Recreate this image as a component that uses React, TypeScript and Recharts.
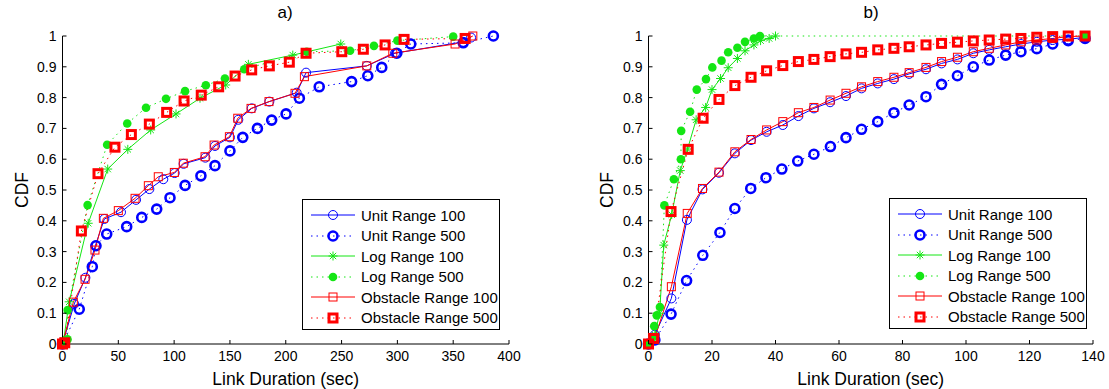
import React from 'react';
import { LineChart, Line, XAxis, YAxis, Label } from 'recharts';

const seriesNames = ['Unit Range 100', 'Unit Range 500', 'Log Range 100', 'Log Range 500', 'Obstacle Range 100', 'Obstacle Range 500'];

// panel a) : [link duration, cdf]
const aUnit100 = [[0, 0], [10.5, 0.13], [20.5, 0.215], [29.5, 0.32], [37.5, 0.406], [52.4, 0.428], [65.9, 0.468], [77.8, 0.503], [90.3, 0.535], [100.5, 0.555], [108.5, 0.585], [128, 0.605], [136.6, 0.643], [150, 0.671], [157.5, 0.728], [169.5, 0.765], [185.3, 0.787], [209.8, 0.816], [218.2, 0.881], [272.6, 0.903], [297.9, 0.944], [359, 0.981], [366, 0.995]];
const aUnit500 = [[0, 0], [15, 0.113], [26.7, 0.251], [30, 0.319], [39.6, 0.357], [57.5, 0.381], [71, 0.411], [84.4, 0.438], [96.3, 0.475], [109.8, 0.515], [124, 0.546], [136.6, 0.579], [150, 0.627], [161.5, 0.671], [174.6, 0.7], [187.4, 0.727], [200.3, 0.747], [212.2, 0.798], [230, 0.835], [259, 0.852], [273.5, 0.871], [286, 0.898], [299.5, 0.944], [312, 0.974], [359, 0.978], [386, 1.0]];
const aLog100 = [[0, 0], [1, 0.012], [6, 0.137], [23, 0.392], [40.5, 0.568], [58.5, 0.632], [79, 0.695], [101.7, 0.747], [123.2, 0.798], [146.2, 0.841], [166.5, 0.908], [206.3, 0.938], [249.3, 0.974]];
const aLog500 = [[0, 0], [4.5, 0.015], [4.6, 0.11], [22.5, 0.451], [40, 0.647], [58, 0.716], [74.8, 0.767], [92.7, 0.796], [109.8, 0.821], [128.4, 0.84], [145.5, 0.862], [162.8, 0.892], [218.8, 0.949], [257.6, 0.952], [279, 0.968], [300, 0.985], [350, 0.998]];
const aObstacle100 = [[0, 0], [9.7, 0.136], [20.2, 0.21], [29.1, 0.305], [36.6, 0.408], [50, 0.433], [65, 0.473], [76.9, 0.514], [85.8, 0.543], [100.2, 0.557], [108.2, 0.587], [127.7, 0.608], [135.8, 0.646], [149.5, 0.673], [157, 0.733], [168.9, 0.765], [185, 0.787], [208.3, 0.814], [216.7, 0.868], [272.6, 0.903], [295.9, 0.944], [351.7, 0.974], [367.6, 1.0]];
const aObstacle500 = [[0, 0], [2, 0.004], [16.9, 0.367], [31.8, 0.553], [47, 0.639], [61.7, 0.68], [77.8, 0.714], [93.3, 0.752], [108.9, 0.789], [124.3, 0.808], [139.9, 0.835], [154.6, 0.87], [169.5, 0.89], [185.3, 0.903], [203.2, 0.915], [218.2, 0.944], [250.2, 0.949], [269.5, 0.957], [289, 0.971], [306, 0.989], [360.7, 0.992]];

// panel b)
const bUnit100 = [[0, 0], [2, 0.03], [7.2, 0.148], [12.1, 0.403], [17, 0.502], [22.2, 0.556], [27.2, 0.619], [32.3, 0.662], [37.2, 0.689], [42.3, 0.711], [47.2, 0.74], [52.1, 0.765], [57.2, 0.785], [62.2, 0.805], [67.1, 0.83], [72.2, 0.846], [77.3, 0.86], [82.1, 0.877], [87.4, 0.892], [92.3, 0.911], [97.3, 0.924], [102.3, 0.944], [107.3, 0.955], [112.5, 0.965], [117.3, 0.974], [122.3, 0.981], [127.3, 0.987], [132.2, 0.989], [137.5, 0.996]];
const bUnit500 = [[0, 0], [2, 0.013], [7.1, 0.097], [12, 0.206], [17.1, 0.288], [22.5, 0.362], [27.2, 0.44], [32.2, 0.505], [37, 0.54], [42, 0.568], [47, 0.594], [52.1, 0.616], [57.3, 0.641], [62.2, 0.67], [67.1, 0.697], [72.2, 0.722], [77.3, 0.751], [82.1, 0.776], [87.4, 0.803], [92.3, 0.843], [97.3, 0.871], [102.3, 0.9], [107.3, 0.922], [112.5, 0.938], [117.3, 0.949], [122.3, 0.959], [127.3, 0.974], [132.2, 0.985], [137.5, 0.992]];
const bLog100 = [[0, 0], [2, 0.03], [3.5, 0.1], [4.8, 0.321], [7.3, 0.42], [10, 0.563], [12.3, 0.633], [15, 0.728], [18, 0.768], [20, 0.826], [22.7, 0.862], [25.1, 0.897], [28, 0.927], [30.4, 0.952], [33.2, 0.971], [35.3, 0.985], [38, 0.992], [40, 1.0]];
const bLog500 = [[0, 0], [1.2, 0.02], [1.8, 0.058], [2.6, 0.093], [3.6, 0.12], [5, 0.45], [8, 0.535], [10.2, 0.6], [10.3, 0.692], [13.1, 0.754], [15.2, 0.826], [18.1, 0.86], [20.1, 0.898], [23, 0.92], [25.1, 0.947], [28, 0.962], [30.4, 0.981], [33.2, 0.992], [35.1, 1.0], [137.5, 1.0]];
const bObstacle100 = [[0, 0], [2, 0.02], [7.2, 0.186], [12.2, 0.424], [17, 0.505], [22.2, 0.558], [27.2, 0.624], [32.3, 0.664], [37.2, 0.695], [42.3, 0.722], [47.2, 0.751], [52.1, 0.768], [57.2, 0.792], [62.2, 0.814], [67.1, 0.835], [72.2, 0.852], [77.3, 0.866], [82.1, 0.881], [87.4, 0.898], [92.3, 0.917], [97.3, 0.931], [102.3, 0.949], [107.3, 0.96], [112.5, 0.971], [117.3, 0.981], [122.3, 0.987], [127.3, 0.992], [132.2, 0.998], [137.5, 1.0]];
const bObstacle500 = [[0, 0], [1.6, 0.018], [7.1, 0.43], [12.5, 0.632], [17.2, 0.733], [22.2, 0.794], [27.2, 0.839], [32.3, 0.866], [37.2, 0.887], [42.3, 0.904], [47.2, 0.917], [52.1, 0.924], [57.2, 0.933], [62.2, 0.942], [67.1, 0.947], [72.2, 0.955], [77.3, 0.96], [82.1, 0.965], [87.4, 0.971], [92.3, 0.976], [97.3, 0.98], [102.3, 0.984], [107.3, 0.987], [112.5, 0.99], [117.3, 0.992], [122.3, 0.996], [127.3, 0.998], [132.2, 1.0], [137.5, 1.0]];

const aXTicks = [0, 50, 100, 150, 200, 250, 300, 350, 400];
const bXTicks = [0, 20, 40, 60, 80, 100, 120, 140];
const yTicks = [0, 0.1, 0.2, 0.3, 0.4, 0.5, 0.6, 0.7, 0.8, 0.9, 1];

const BLUE = '#0000ff';
const GREEN = '#14e614';
const RED = '#ff0000';

type Kind = 'circle' | 'boldCircle' | 'star' | 'dot' | 'square' | 'boldSquare';
const styles: { color: string; dotted: boolean; kind: Kind }[] = [
  { color: BLUE, dotted: false, kind: 'circle' },
  { color: BLUE, dotted: true, kind: 'boldCircle' },
  { color: GREEN, dotted: false, kind: 'star' },
  { color: GREEN, dotted: true, kind: 'dot' },
  { color: RED, dotted: false, kind: 'square' },
  { color: RED, dotted: true, kind: 'boldSquare' },
];

const toPts = (a: number[][]) => a.map(([x, y]) => ({ x, y }));

function Marker({ kind, cx, cy, color }: { kind: Kind; cx: number; cy: number; color: string }) {
  if (kind === 'circle') return <circle cx={cx} cy={cy} r={4.5} fill="none" stroke={color} strokeWidth={1} />;
  if (kind === 'boldCircle') return <circle cx={cx} cy={cy} r={4.5} fill="none" stroke={color} strokeWidth={2.6} />;
  if (kind === 'dot') return <circle cx={cx} cy={cy} r={4.3} fill={color} stroke="none" />;
  if (kind === 'square') return <rect x={cx - 4} y={cy - 4} width={8} height={8} fill="none" stroke={color} strokeWidth={1} />;
  if (kind === 'boldSquare') return <rect x={cx - 4} y={cy - 4} width={8} height={8} fill="none" stroke={color} strokeWidth={3} />;
  const d = 4.5;
  const e = 3.2;
  return (
    <g stroke={color} strokeWidth={1}>
      <line x1={cx - d} x2={cx + d} y1={cy} y2={cy} />
      <line x1={cx} x2={cx} y1={cy - d} y2={cy + d} />
      <line x1={cx - e} x2={cx + e} y1={cy - e} y2={cy + e} />
      <line x1={cx - e} x2={cx + e} y1={cy + e} y2={cy - e} />
    </g>
  );
}

const YTick = (p: any) => (
  <g>
    <line x1={p.x + 6} x2={p.x + 10} y1={p.y} y2={p.y} stroke="#000" />
    <text x={p.x} y={p.y} dy="0.35em" textAnchor="end" fontSize={14} fill="#000">{p.payload.value}</text>
  </g>
);

const XTick = (p: any) => (
  <g>
    <line x1={p.x} x2={p.x} y1={p.y - 6} y2={p.y - 10} stroke="#000" />
    <text x={p.x} y={p.y} dy="0.75em" textAnchor="middle" fontSize={14} fill="#000">{p.payload.value}</text>
  </g>
);

function Panel({ left, width, yWidth, right, xMax, xTicks, series, cdfOffset }: {
  left: number; width: number; yWidth: number; right: number; xMax: number; xTicks: number[]; series: number[][][]; cdfOffset: number;
}) {
  return (
    <div style={{ position: 'absolute', left, top: 0 }}>
      <LineChart width={width} height={389} margin={{ top: 36, right, bottom: 0, left: 0 }}>
        <XAxis dataKey="x" type="number" domain={[0, xMax]} ticks={xTicks} interval={0} height={45}
          axisLine={{ stroke: '#000' }} tickLine={false} tickSize={0} tickMargin={6} tick={(p: any) => <XTick {...p} />}>
          <Label value="Link Duration (sec)" position="insideBottom" offset={4} fontSize={17.5} fill="#000" />
        </XAxis>
        <YAxis type="number" domain={[0, 1]} ticks={yTicks} interval={0} width={yWidth}
          axisLine={{ stroke: '#000' }} tickLine={false} tickSize={0} tickMargin={6} tick={(p: any) => <YTick {...p} />}>
          <Label value="CDF" angle={-90} position="insideLeft" offset={cdfOffset} fontSize={17.5} fill="#000" style={{ textAnchor: 'middle' }} />
        </YAxis>
        {series.map((s, i) => (
          <Line key={seriesNames[i]} name={seriesNames[i]} data={toPts(s)} dataKey="y" type="linear"
            stroke={styles[i].color} strokeWidth={1} strokeDasharray={styles[i].dotted ? '1.5 4' : undefined}
            isAnimationActive={false} activeDot={false}
            dot={(p: any) => <Marker key={`m${i}-${p.index}`} kind={styles[i].kind} cx={p.cx} cy={p.cy} color={styles[i].color} />} />
        ))}
      </LineChart>
    </div>
  );
}

function LegendBox({ left, top }: { left: number; top: number }) {
  return (
    <div style={{ position: 'absolute', left, top, width: 198, height: 131, border: '1px solid #000', background: '#fff', boxSizing: 'border-box', paddingTop: 5 }}>
      {seriesNames.map((n, i) => (
        <div key={n} style={{ display: 'flex', alignItems: 'center', height: 20.5 }}>
          <svg width={58} height={20} style={{ flex: 'none' }}>
            <line x1={8} x2={52} y1={10} y2={10} stroke={styles[i].color} strokeWidth={1} strokeDasharray={styles[i].dotted ? '1.5 4' : undefined} />
            <Marker kind={styles[i].kind} cx={30} cy={10} color={styles[i].color} />
          </svg>
          <span style={{ fontSize: 15, color: '#000', whiteSpace: 'nowrap' }}>{n}</span>
        </div>
      ))}
    </div>
  );
}

export default function App() {
  return (
    <div style={{ position: 'absolute', left: 0, top: 0, width: 1109, height: 389, background: '#fff', fontFamily: '"Liberation Sans", Arial, sans-serif' }}>
      <Panel left={0} width={540} yWidth={62.5} right={31} xMax={400} xTicks={aXTicks} cdfOffset={22}
        series={[aUnit100, aUnit500, aLog100, aLog500, aObstacle100, aObstacle500]} />
      <Panel left={560} width={549} yWidth={88.5} right={16} xMax={140} xTicks={bXTicks} cdfOffset={47}
        series={[bUnit100, bUnit500, bLog100, bLog500, bObstacle100, bObstacle500]} />
      <div style={{ position: 'absolute', left: 265, top: 3, width: 40, textAlign: 'center', fontSize: 17 }}>a)</div>
      <div style={{ position: 'absolute', left: 851, top: 3, width: 40, textAlign: 'center', fontSize: 17 }}>b)</div>
      <LegendBox left={302} top={199} />
      <LegendBox left={889} top={198} />
    </div>
  );
}
